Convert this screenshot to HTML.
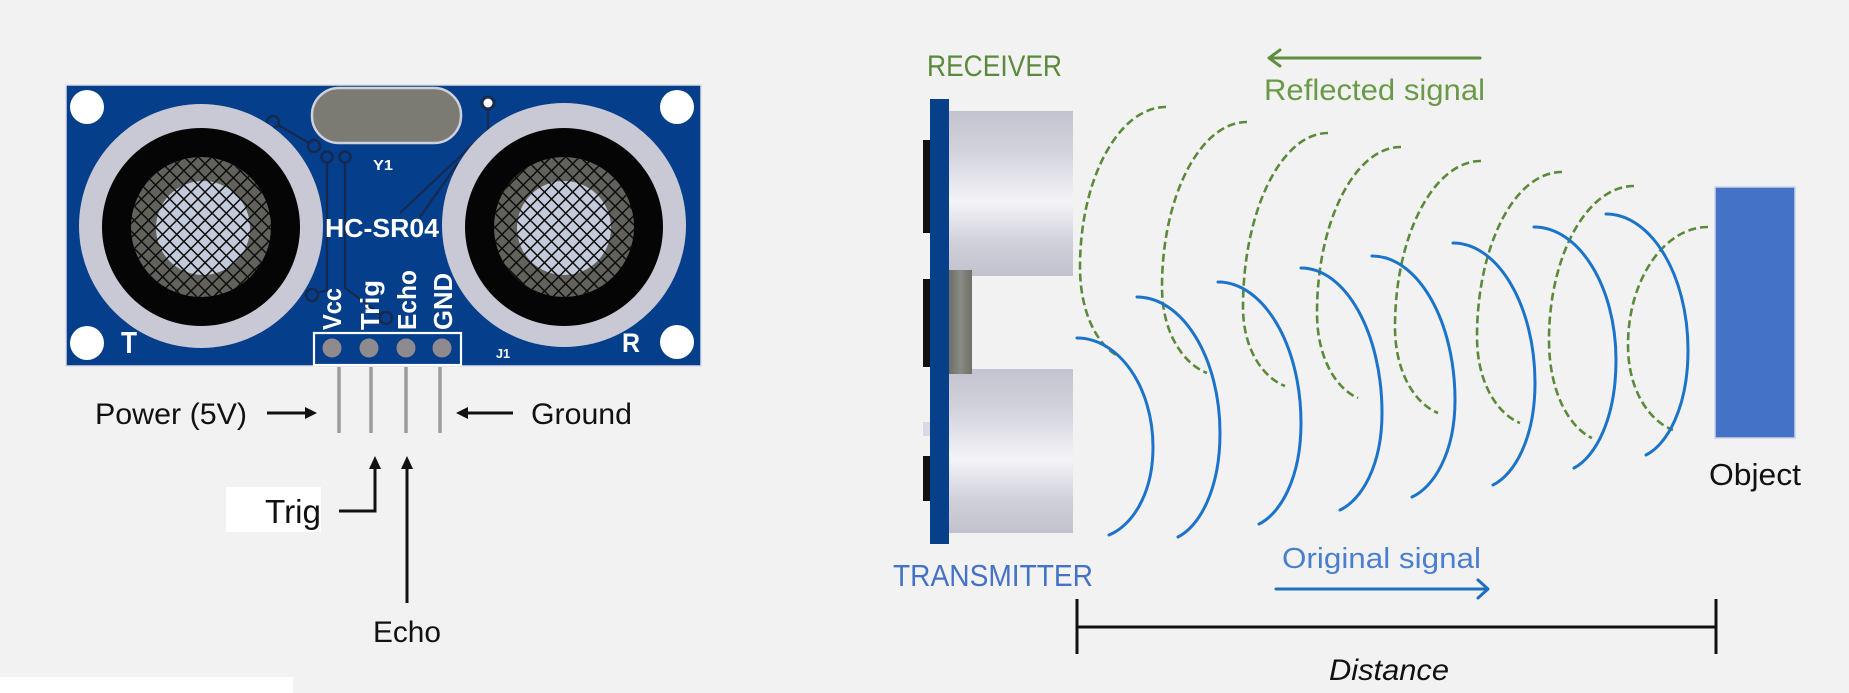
<!DOCTYPE html>
<html><head><meta charset="utf-8"><style>html,body{margin:0;padding:0;background:#f2f2f2}svg{display:block}</style></head>
<body>
<svg width="1849" height="693" viewBox="0 0 1849 693" xmlns="http://www.w3.org/2000/svg" font-family="'Liberation Sans', Arial, sans-serif">
<defs>
  <pattern id="hatch" width="10" height="10" patternUnits="userSpaceOnUse" patternTransform="rotate(45)">
    <path d="M0 0H10M0 0V10" stroke="#0d0d0d" stroke-width="3" fill="none"/>
  </pattern>
  <linearGradient id="cyl" x1="0" y1="0" x2="0" y2="1">
    <stop offset="0" stop-color="#c3c3cf"/>
    <stop offset="0.25" stop-color="#d3d3dd"/>
    <stop offset="0.55" stop-color="#f3f3f8"/>
    <stop offset="0.8" stop-color="#d0d0da"/>
    <stop offset="1" stop-color="#c2c2ce"/>
  </linearGradient>
  <linearGradient id="blk" x1="0" y1="0" x2="1" y2="0">
    <stop offset="0" stop-color="#6f6f69"/>
    <stop offset="0.5" stop-color="#8a8a84"/>
    <stop offset="1" stop-color="#707069"/>
  </linearGradient>
</defs>
<rect width="1849" height="693" fill="#f2f2f2"/>
<rect x="0" y="677" width="293" height="16" fill="#ffffff"/>

<!-- ============ PCB (left) ============ -->
<rect x="66" y="85" width="635" height="281" fill="#053f8b" stroke="#dcdce6" stroke-width="1.5"/>
<!-- traces -->
<g stroke="#16294f" stroke-width="2.2" fill="none">
  <path d="M327 157 V290 L312 295"/>
  <path d="M345 157 V288 L386 318"/>
  <path d="M273 122 L314 146"/>
  <path d="M488 103 V130 L400 213"/>
  <path d="M458 163 L420 217"/>
</g>
<g fill="#053f8b" stroke="#16294f" stroke-width="2.5">
  <circle cx="273" cy="122" r="6"/>
  <circle cx="314" cy="146" r="6"/>
  <circle cx="327" cy="157" r="5.5"/>
  <circle cx="345" cy="157" r="5.5"/>
  <circle cx="312" cy="295" r="6"/>
  <circle cx="386" cy="318" r="6"/>
</g>
<circle cx="488" cy="103" r="6" fill="#ffffff" stroke="#16294f" stroke-width="3"/>
<!-- crystal -->
<rect x="312" y="88" width="149" height="55" rx="27" fill="#7b7b74" stroke="#cfd0da" stroke-width="2.5"/>
<!-- holes -->
<circle cx="87" cy="107" r="17" fill="#ffffff"/>
<circle cx="87" cy="343" r="17" fill="#ffffff"/>
<circle cx="677" cy="107" r="17" fill="#ffffff"/>
<circle cx="677" cy="342" r="17" fill="#ffffff"/>
<!-- left transducer -->
<circle cx="201" cy="226" r="122" fill="#c9c9d5"/>
<circle cx="201" cy="227" r="99" fill="#050505"/>
<circle cx="201" cy="227" r="70" fill="#62625c"/>
<circle cx="203" cy="228" r="47" fill="#c3cadb"/>
<circle cx="201" cy="227" r="70" fill="url(#hatch)"/>
<!-- right transducer -->
<circle cx="564" cy="225" r="122" fill="#c9c9d5"/>
<circle cx="564" cy="227" r="99" fill="#050505"/>
<circle cx="564" cy="227" r="70" fill="#62625c"/>
<circle cx="564" cy="228" r="47" fill="#c3cadb"/>
<circle cx="564" cy="227" r="70" fill="url(#hatch)"/>
<!-- labels on pcb -->
<g fill="#ffffff" font-weight="bold">
  <text x="325" y="237" font-size="26" textLength="114" lengthAdjust="spacingAndGlyphs">HC-SR04</text>
  <text x="373" y="170" font-size="15" textLength="20" lengthAdjust="spacingAndGlyphs">Y1</text>
  <text x="121" y="353" font-size="31" textLength="16" lengthAdjust="spacingAndGlyphs">T</text>
  <text x="622" y="352" font-size="27" textLength="18" lengthAdjust="spacingAndGlyphs">R</text>
  <text x="496" y="358" font-size="13" textLength="14" lengthAdjust="spacingAndGlyphs">J1</text>
  <text transform="translate(341 330) rotate(-90)" font-size="26" textLength="42" lengthAdjust="spacingAndGlyphs">Vcc</text>
  <text transform="translate(379 330) rotate(-90)" font-size="26" textLength="50" lengthAdjust="spacingAndGlyphs">Trig</text>
  <text transform="translate(416 330) rotate(-90)" font-size="26" textLength="60" lengthAdjust="spacingAndGlyphs">Echo</text>
  <text transform="translate(452 330) rotate(-90)" font-size="26" textLength="57" lengthAdjust="spacingAndGlyphs">GND</text>
</g>
<!-- header -->
<rect x="314" y="333" width="147" height="32" fill="none" stroke="#ffffff" stroke-width="2.2"/>
<g fill="#8e8a8e">
  <circle cx="332" cy="348" r="9.5"/>
  <circle cx="369" cy="348" r="9.5"/>
  <circle cx="406" cy="348" r="9.5"/>
  <circle cx="442" cy="348" r="9.5"/>
</g>
<!-- pin legs -->
<g stroke="#9c9c9c" stroke-width="3.5">
  <line x1="339" y1="367" x2="339" y2="433"/>
  <line x1="371" y1="367" x2="371" y2="433"/>
  <line x1="406" y1="367" x2="406" y2="433"/>
  <line x1="440" y1="367" x2="440" y2="433"/>
</g>
<!-- left labels and arrows -->
<g fill="#111111" font-size="30">
  <text x="95" y="424" textLength="152" lengthAdjust="spacingAndGlyphs">Power (5V)</text>
  <text x="531" y="424" textLength="101" lengthAdjust="spacingAndGlyphs">Ground</text>
  <text x="373" y="642" textLength="68" lengthAdjust="spacingAndGlyphs">Echo</text>
</g>
<rect x="226" y="487" width="95" height="45" fill="#ffffff"/>
<text x="265" y="523" font-size="33" fill="#111111" textLength="56" lengthAdjust="spacingAndGlyphs">Trig</text>
<g stroke="#111111" stroke-width="3" fill="none">
  <line x1="267" y1="413" x2="308" y2="413"/>
  <line x1="513" y1="413" x2="466" y2="413"/>
  <polyline points="339,511 375,511 375,466"/>
  <line x1="407" y1="603" x2="407" y2="466"/>
</g>
<g fill="#111111">
  <polygon points="317,413 305,407 305,419"/>
  <polygon points="456,413 468,407 468,419"/>
  <polygon points="375,456 369,469 381,469"/>
  <polygon points="407,456 401,469 413,469"/>
</g>

<!-- ============ Side view (right) ============ -->
<rect x="923" y="140" width="8" height="93" fill="#111"/>
<rect x="923" y="279" width="8" height="88" fill="#111"/>
<rect x="923" y="456" width="8" height="45" fill="#111"/>
<rect x="923" y="422" width="8" height="14" fill="#d8d8e6"/>
<rect x="949" y="111" width="124" height="165" fill="url(#cyl)"/>
<rect x="949" y="369" width="124" height="164" fill="url(#cyl)"/>
<rect x="949" y="270" width="23" height="104" fill="url(#blk)"/>
<rect x="930" y="99" width="19" height="445" fill="#063f8a"/>

<text x="927" y="76" font-size="30" fill="#5b8a3c" textLength="135" lengthAdjust="spacingAndGlyphs">RECEIVER</text>
<text x="893" y="586" font-size="31" fill="#4472c4" textLength="200" lengthAdjust="spacingAndGlyphs">TRANSMITTER</text>

<!-- reflected arrow -->
<g stroke="#5e8f3e" stroke-width="3" fill="none" stroke-linecap="round" stroke-linejoin="round">
  <line x1="1270" y1="58" x2="1480" y2="58"/>
  <polyline points="1280,50 1269,58 1280,66"/>
</g>
<text x="1264" y="100" font-size="30" fill="#6a9a48" textLength="221" lengthAdjust="spacingAndGlyphs">Reflected signal</text>

<!-- green dashed arcs -->
<g stroke="#5a8a3a" stroke-width="2.6" fill="none" stroke-dasharray="8 4">
  <path d="M1166 107 C1118.7 107 1080 179 1080 267 C1080 316.5 1100 348 1120 357"/>
  <path d="M1247 122 C1200.3 122 1162 196.3 1162 287 C1162 334.3 1184.5 364.4 1207 373"/>
  <path d="M1328 133 C1281.3 133 1243 211.3 1243 307 C1243 350.5 1264 378.1 1285 386"/>
  <path d="M1401 147 C1354.8 147 1317 221.7 1317 313 C1317 359.8 1337.5 389.5 1358 398"/>
  <path d="M1481 161 C1433.7 161 1395 235.7 1395 327 C1395 374.3 1416.5 404.4 1438 413"/>
  <path d="M1562 172 C1514.3 172 1477 246.3 1477 337 C1477 384.3 1498.5 414.4 1520 423"/>
  <path d="M1634 186 C1587.3 186 1549 255.3 1549 340 C1549 393.9 1570.5 428.2 1592 438"/>
  <path d="M1708 227 C1664 227 1628 280.1 1628 345 C1628 391.8 1650.5 421.5 1673 430"/>
</g>

<!-- blue arcs -->
<g stroke="#1b74c9" stroke-width="3" fill="none" stroke-linecap="round">
  <path d="M1077 338 C1118.8 338 1153 387 1153 447 C1153 495.4 1131 526.2 1109 535"/>
  <path d="M1137 297 C1182.7 297 1220 358.2 1220 433 C1220 490.2 1199 526.6 1178 537"/>
  <path d="M1218 282 C1263.7 282 1301 345.5 1301 423 C1301 478.6 1280 513.9 1259 524"/>
  <path d="M1301 268 C1345.6 268 1382 333.3 1382 413 C1382 466.4 1361 500.3 1340 510"/>
  <path d="M1372 256 C1417.7 256 1455 320.8 1455 400 C1455 453.4 1433.5 487.3 1412 497"/>
  <path d="M1453 243 C1498.1 243 1535 306 1535 383 C1535 439.1 1514 474.8 1493 485"/>
  <path d="M1534 227 C1579.1 227 1616 286.9 1616 360 C1616 419.4 1595 457.2 1574 468"/>
  <path d="M1606 214 C1651.1 214 1688 275.2 1688 350 C1688 407.8 1667 444.5 1646 455"/>
</g>

<!-- object -->
<rect x="1715" y="187" width="80" height="251" fill="#4472c4" stroke="#c9d3ea" stroke-width="1.5"/>
<text x="1709" y="485" font-size="31" fill="#111111" textLength="92" lengthAdjust="spacingAndGlyphs">Object</text>

<!-- original signal -->
<text x="1282" y="568" font-size="29" fill="#4a7fcf" textLength="199" lengthAdjust="spacingAndGlyphs">Original signal</text>
<g stroke="#1f6fc0" stroke-width="3" fill="none" stroke-linecap="round" stroke-linejoin="round">
  <line x1="1276" y1="589" x2="1487" y2="589"/>
  <polyline points="1478,580 1488,589 1478,598"/>
</g>

<!-- distance -->
<g stroke="#111111" stroke-width="3">
  <line x1="1077" y1="599" x2="1077" y2="654"/>
  <line x1="1716" y1="599" x2="1716" y2="654"/>
  <line x1="1077" y1="627" x2="1716" y2="627"/>
</g>
<text x="1329" y="680" font-size="30" font-style="italic" fill="#111111" textLength="120" lengthAdjust="spacingAndGlyphs">Distance</text>
</svg>
</body></html>
